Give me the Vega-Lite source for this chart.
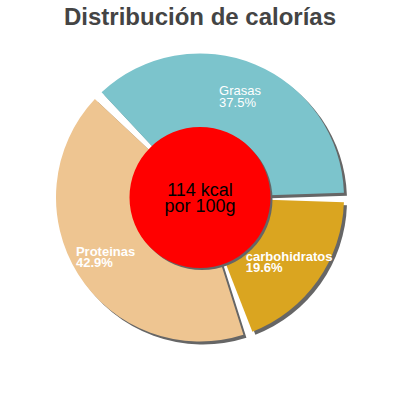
{
  "$schema": "https://vega.github.io/schema/vega-lite/v6.json",
  "width": 400,
  "height": 327,
  "padding": {"top": 6, "left": 0, "right": 0, "bottom": 0},
  "title": {
    "text": "Distribución de calorías",
    "font": "Liberation Sans",
    "fontSize": 24,
    "fontWeight": "bold",
    "color": "#444444",
    "anchor": "middle",
    "offset": 4
  },
  "data": {
    "values": [
      {"nombre": "carbohidratos", "valor": 19.6, "orden": 1, "etiqueta": "carbohidratos\n19.6%"},
      {"nombre": "Proteinas", "valor": 42.9, "orden": 2, "etiqueta": "Proteinas\n42.9%"},
      {"nombre": "Grasas", "valor": 37.5, "orden": 3, "etiqueta": "Grasas\n37.5%"}
    ]
  },
  "layer": [
    {
      "encoding": {
        "theta": {"field": "valor", "type": "quantitative", "stack": true, "scale": {"range": [1.5708, 7.854]}},
        "order": {"field": "orden", "type": "quantitative"}
      },
      "layer": [
        {
          "mark": {"type": "arc", "outerRadius": 144, "padAngle": 0.066, "color": "#666666", "xOffset": 3, "yOffset": 3}
        },
        {
          "mark": {"type": "arc", "outerRadius": 144, "padAngle": 0.066},
          "encoding": {
            "color": {
              "field": "nombre",
              "type": "nominal",
              "scale": {"domain": ["Grasas", "Proteinas", "carbohidratos"], "range": ["#7cc4cc", "#eec591", "#daa520"]},
              "legend": null
            }
          }
        },
        {
          "mark": {"type": "text", "radius": 110, "align": "left", "baseline": "middle", "dx": -23, "dy": -4.5, "lineBreak": "\n", "lineHeight": 12, "font": "Liberation Sans", "fontSize": 13, "color": "white"},
          "encoding": {
            "text": {"condition": {"test": "datum.nombre === 'Grasas'", "field": "etiqueta"}, "value": ""}
          }
        },
        {
          "mark": {"type": "text", "radius": 110, "align": "left", "baseline": "middle", "dx": -31, "dy": -4.5, "lineBreak": "\n", "lineHeight": 11.5, "font": "Liberation Sans", "fontSize": 13, "fontWeight": "bold", "color": "white"},
          "encoding": {
            "text": {"condition": {"test": "datum.nombre === 'Proteinas'", "field": "etiqueta"}, "value": ""}
          }
        },
        {
          "mark": {"type": "text", "radius": 110, "align": "left", "baseline": "middle", "dx": -44, "dy": -4.5, "lineBreak": "\n", "lineHeight": 11.5, "font": "Liberation Sans", "fontSize": 13, "fontWeight": "bold", "color": "white"},
          "encoding": {
            "text": {"condition": {"test": "datum.nombre === 'carbohidratos'", "field": "etiqueta"}, "value": ""}
          }
        }
      ]
    },
    {
      "data": {"values": [{"energia": 114, "texto": "114 kcal\npor 100g"}]},
      "layer": [
        {"mark": {"type": "point", "shape": "circle", "filled": true, "size": 19881, "color": "#666666", "opacity": 1, "xOffset": 2, "yOffset": 2}},
        {"mark": {"type": "point", "shape": "circle", "filled": true, "size": 19881, "color": "#ff0000", "opacity": 1}},
        {
          "mark": {"type": "text", "baseline": "middle", "dy": -7, "lineBreak": "\n", "lineHeight": 16.5, "font": "Liberation Sans", "fontSize": 18, "color": "black"},
          "encoding": {"text": {"field": "texto", "type": "nominal"}}
        }
      ]
    }
  ],
  "config": {"view": {"stroke": null}}
}
